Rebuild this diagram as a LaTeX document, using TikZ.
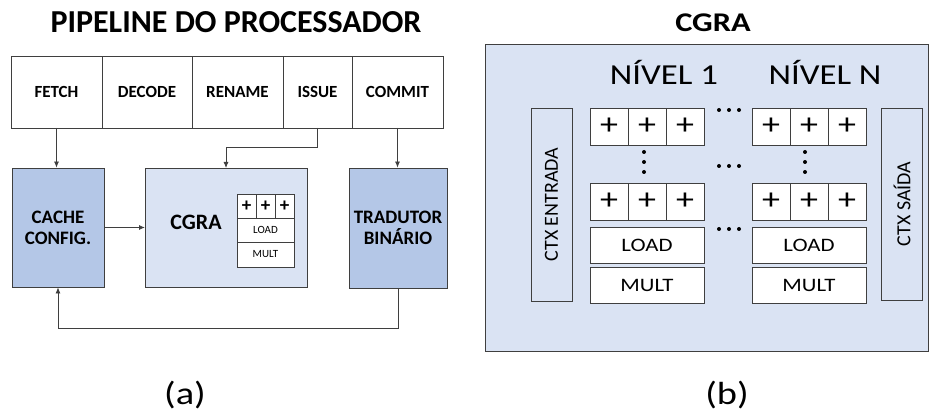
\documentclass[tikz,border=0pt]{standalone}
\usepackage{fontspec}
\setmainfont{Carlito}
\newfontfamily\widefont[FakeStretch=1.2]{Carlito}
\usetikzlibrary{positioning}
\usetikzlibrary{arrows.meta}

\definecolor{cgrafill}{HTML}{DAE3F3}
\definecolor{unitfill}{HTML}{B4C7E7}
\definecolor{edge}{HTML}{3F3F3F}

\newcommand{\fsz}[1]{\fontsize{#1}{#1}\selectfont}

\tikzset{
  stage/.style={draw=edge, fill=white, line width=0.8pt, minimum height=72pt, inner sep=0pt, outer sep=0pt, font=\fsz{17}\bfseries},
  unit/.style={draw=edge, fill=unitfill, line width=0.8pt, inner sep=0pt, align=center, font=\fontsize{19}{21}\selectfont\bfseries},
  cell/.style={draw=edge, fill=white, line width=0.8pt, inner sep=0pt, outer sep=0pt},
  wire/.style={draw=edge, line width=0.8pt, -{Latex[length=6pt,width=5pt]}},
}

\begin{document}
\begin{tikzpicture}[x=1pt, y=-1pt]
\useasboundingbox (0,0) rectangle (929,414);

% (a) pipeline
\node[font=\fsz{32}\bfseries] (ttla) at (236,22) {PIPELINE DO PROCESSADOR};
\node[stage, minimum width=91pt] (fetch) at (56.5,92) {FETCH};
\node[stage, minimum width=90pt, right=0pt of fetch] (decode) {DECODE};
\node[stage, minimum width=91pt, right=0pt of decode] (rename) {RENAME};
\node[stage, minimum width=69pt, right=0pt of rename] (issue) {ISSUE};
\node[stage, minimum width=91pt, right=0pt of issue] (commit) {COMMIT};

\node[unit, minimum width=92pt, minimum height=119pt] (cache) at (58,227.5) {CACHE\\CONFIG.};
\node[cell, fill=cgrafill, minimum width=162pt, minimum height=119pt] (cgra) at (226,227.5) {};
\node[font=\fsz{22}\bfseries] (cgralbl) at (196,222) {CGRA};
\node[unit, minimum width=98pt, minimum height=120pt] (trad) at (398,228) {TRADUTOR\\BINÁRIO};

% small array inside the CGRA block
\foreach \i in {0,1,2}
  \node[cell, minimum width=19pt, minimum height=24pt, font=\fsz{19}\bfseries] (mp\i) at (246.5+19*\i,206) {+};
\node[cell, minimum width=57pt, minimum height=24pt, font=\fsz{11}] (mload) at (265.5,230) {LOAD};
\node[cell, minimum width=57pt, minimum height=25pt, font=\fsz{11}] (mmult) at (265.5,254.5) {MULT};

\draw[wire] (fetch.south) -- (fetch.south |- cache.north);
\draw[wire] (issue.south) -- ++(0,19) -| (cgra.north);
\draw[wire] (commit.south) -- (commit.south |- trad.north);
\draw[wire] (cache.east) -- (cgra.west);
\draw[wire] (trad.south) -- ++(0,40) -| (cache.south);

\node[font=\widefont\fsz{32}] (capa) at (185,395) {(a)};

% (b) CGRA detail
\node[font=\widefont\fsz{27}\bfseries] (ttlb) at (713,23) {CGRA};
\node[cell, fill=cgrafill, minimum width=443.5pt, minimum height=307pt] (array) at (706.75,197.5) {};
\node[font=\widefont\fsz{29}] (lv1) at (664,72) {NÍVEL 1};
\node[font=\widefont\fsz{29}] (lvn) at (825,72) {NÍVEL N};

\node[cell, fill=cgrafill, rotate=90, minimum width=193pt, minimum height=41pt, font=\fsz{20}] (ctxin) at (551.5,204.5) {CTX ENTRADA};
\node[cell, fill=cgrafill, rotate=90, minimum width=192pt, minimum height=41pt, font=\fsz{20}] (ctxout) at (902,204) {CTX SAÍDA};

\foreach \c/\x in {a/590,b/752} {
  \foreach \i in {0,1,2} {
    \node[cell, minimum width=38pt, minimum height=37pt, font=\widefont\fsz{30}] (top\c\i) at (\x+19+38*\i,126.5) {+};
    \node[cell, minimum width=38pt, minimum height=37pt, font=\widefont\fsz{30}] (bot\c\i) at (\x+19+38*\i,201.5) {+};
  }
  \node[cell, minimum width=114pt, minimum height=36pt, font=\widefont\fsz{19}] (load\c) at (\x+57,245) {LOAD};
  \node[cell, minimum width=114pt, minimum height=36pt, font=\widefont\fsz{19}] (mult\c) at (\x+57,285) {MULT};
}

% dots between levels
\foreach \y in {110,166,229}
  \foreach \dx in {-10,0,10}
    \fill (729+\dx,\y) circle (2pt);
\foreach \x in {644,805}
  \foreach \y in {152,162,172}
    \fill (\x,\y) circle (2pt);

\node[font=\widefont\fsz{32}] (capb) at (727,395) {(b)};
\end{tikzpicture}
\end{document}
